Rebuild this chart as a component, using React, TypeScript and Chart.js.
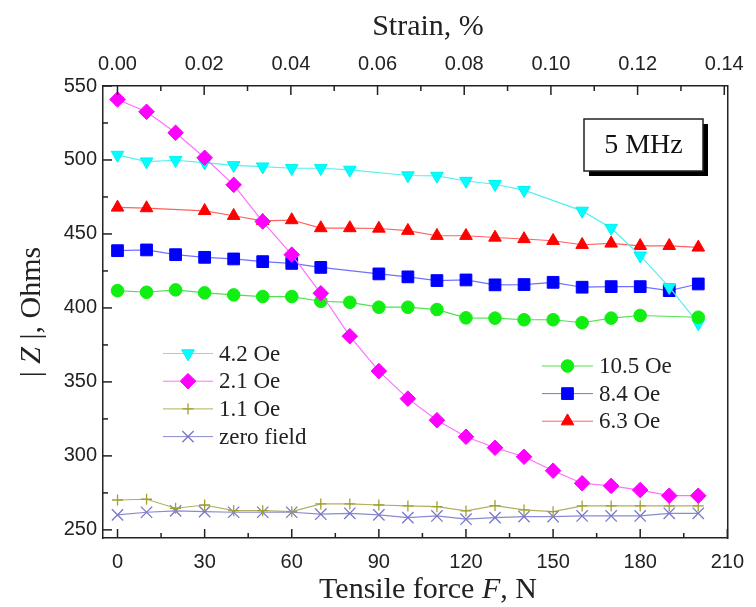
import React, { useEffect, useRef } from 'react';
import { Chart, registerables } from 'chart.js';
import { drawPoint } from 'chart.js/helpers';

Chart.register(...registerables);

// ---- data ----
const force = [0, 10, 20, 30, 40, 50, 60, 70, 80, 90, 100, 110, 120, 130, 140, 150, 160, 170, 180, 190, 200];
const oe42 = [503.4, 498.9, 499.8, 498.2, 496.4, 495.5, 494.4, 494.4, 493.3, null, 489.5, 489.2, 485.8, 483.6, 479.6, null, 465.6, 454, 435.3, 414, 389.5];
const oe21 = [540.9, 532.6, 518.4, 501.5, 483.2, 458.4, 436, 409.9, 380.9, 357.3, 338.7, 324.1, 312.9, 305.5, 299.4, 290, 281.5, 279.7, 276.9, 273.1, 273.1];
const oe11 = [270.2, 270.7, 264.6, 266.8, 263, 263, 262.3, 267.5, 267.5, 266.8, 266.2, 265.7, 262.8, 266.4, 263.5, 262.3, 266.2, 266.2, 266.2, 266.2, 266.2];
const zeroField = [260.1, 261.9, 262.8, 262.3, 261.9, 261.9, 261.9, 260.6, 261.2, 260.1, 258.3, 259.4, 257.2, 258.3, 259, 259, 259.4, 259.4, 259.4, 261.2, 261.2];
const oe105 = [411.7, 410.6, 412.2, 410.2, 408.8, 407.7, 407.7, 404.5, 403.8, 400.5, 400.5, 398.9, 393.3, 393.1, 392, 392, 390, 393.1, 394.9, null, 393.7];
const oe84 = [438.7, 439.2, 436, 434.2, 433.1, 431.3, 430.1, 427.4, null, 423, 421, 418.5, 418.9, 415.6, 415.8, 417.3, 414, 414.4, 414.4, 411.7, 416.2];
const oe63 = [467.9, 467.5, null, 465.6, 462.3, 458.9, 459.4, 454, 454, 453.7, 452.2, 448.8, 448.8, 447.6, 446.6, 445.4, 442.7, 443.6, 442, 442, 440.9];

const forceTicks = [0, 30, 60, 90, 120, 150, 180, 210];
const strainTicks = [0, 0.02, 0.04, 0.06, 0.08, 0.1, 0.12, 0.14];
const zTicks = [250, 300, 350, 400, 450, 500, 550];

const labelsLeft = ['4.2 Oe', '2.1 Oe', '1.1 Oe', 'zero field'];
const labelsRight = ['10.5 Oe', '8.4 Oe', '6.3 Oe'];
const frequencyLabel = '5 MHz';

const TICK_FONT = "'Liberation Sans Narrow', 'Liberation Sans', Arial, sans-serif";
const SERIF = "'Liberation Serif', 'Times New Roman', serif";
const AXIS = '#222';

const toPts = (arr: (number | null)[]) => force.map((f, i) => ({ x: f, y: arr[i] }));

function mid(ticks: number[]) {
  const out: number[] = [];
  for (let i = 0; i < ticks.length - 1; i++) out.push((ticks[i] + ticks[i + 1]) / 2);
  return out;
}

const ticksPlugin = {
  id: 'inwardTicks',
  afterDraw(chart: any) {
    const { ctx, chartArea: a, scales } = chart;
    ctx.save();
    ctx.strokeStyle = AXIS;
    ctx.lineWidth = 1.5;
    const seg = (x1: number, y1: number, x2: number, y2: number) => {
      ctx.beginPath(); ctx.moveTo(x1, y1); ctx.lineTo(x2, y2); ctx.stroke();
    };
    forceTicks.forEach(v => { const p = scales.x.getPixelForValue(v); seg(p, a.bottom, p, a.bottom - 9); });
    mid(forceTicks).forEach(v => { const p = scales.x.getPixelForValue(v); seg(p, a.bottom, p, a.bottom - 5); });
    strainTicks.forEach(v => { const p = scales.x2.getPixelForValue(v); seg(p, a.top, p, a.top + 9); });
    mid(strainTicks).forEach(v => { const p = scales.x2.getPixelForValue(v); seg(p, a.top, p, a.top + 5); });
    zTicks.forEach(v => { const p = scales.y.getPixelForValue(v); seg(a.left, p, a.left + 9, p); });
    mid(zTicks).forEach(v => { const p = scales.y.getPixelForValue(v); seg(a.left, p, a.left + 5, p); });
    ctx.restore();
  },
};

function drawMixed(ctx: CanvasRenderingContext2D, parts: [string, boolean][], cx: number, cy: number, size: number) {
  const fontFor = (it: boolean) => `${it ? 'italic ' : ''}${size}px ${SERIF}`;
  let total = 0;
  parts.forEach(([t, it]) => { ctx.font = fontFor(it); total += ctx.measureText(t).width; });
  let x = cx - total / 2;
  ctx.textAlign = 'left';
  ctx.textBaseline = 'middle';
  parts.forEach(([t, it]) => { ctx.font = fontFor(it); ctx.fillText(t, x, cy); x += ctx.measureText(t).width; });
}

const decorPlugin = {
  id: 'decor',
  afterDraw(chart: any) {
    const ctx: CanvasRenderingContext2D = chart.ctx;
    ctx.save();
    ctx.fillStyle = AXIS;
    // axis titles
    drawMixed(ctx, [['Strain, %', false]], 428, 27, 30);
    drawMixed(ctx, [['Tensile force ', false], ['F', true], [', N', false]], 428, 590, 30);
    ctx.save();
    ctx.translate(32, 312);
    ctx.rotate(-Math.PI / 2);
    drawMixed(ctx, [['| ', false], ['Z', true], [' |, Ohms', false]], 0, 0, 30);
    ctx.restore();

    // legends
    const drawLegend = (idxs: number[], labels: string[], x1: number, x2: number, tx: number, y0: number, dy: number) => {
      idxs.forEach((di, k) => {
        const ds = chart.data.datasets[di];
        const y = y0 + k * dy;
        ctx.strokeStyle = ds.borderColor;
        ctx.lineWidth = 1;
        ctx.beginPath(); ctx.moveTo(x1, y); ctx.lineTo(x2, y); ctx.stroke();
        ctx.fillStyle = ds.pointBackgroundColor;
        ctx.strokeStyle = ds.pointBorderColor;
        ctx.lineWidth = ds.pointBorderWidth;
        drawPoint(ctx, { pointStyle: ds.pointStyle, rotation: ds.pointRotation || 0, radius: ds.pointRadius, borderWidth: ds.pointBorderWidth } as any, (x1 + x2) / 2, y);
        ctx.fillStyle = AXIS;
        ctx.font = `23px ${SERIF}`;
        ctx.textAlign = 'left';
        ctx.textBaseline = 'middle';
        ctx.fillText(labels[k], tx, y + 1);
      });
    };
    drawLegend([0, 1, 2, 3], labelsLeft, 163, 213, 219, 353.5, 27.7);
    drawLegend([4, 5, 6], labelsRight, 542, 593, 599, 366, 27.6);

    // frequency box with shadow
    const bx = 584, by = 119, bw = 119, bh = 52;
    ctx.fillStyle = '#000';
    ctx.fillRect(bx + 5, by + 5, bw, bh);
    ctx.fillStyle = '#fff';
    ctx.fillRect(bx, by, bw, bh);
    ctx.strokeStyle = '#222';
    ctx.lineWidth = 1.5;
    ctx.strokeRect(bx, by, bw, bh);
    ctx.fillStyle = '#111';
    drawMixed(ctx, [[frequencyLabel, false]], bx + bw / 2, by + bh / 2 + 1, 28);
    ctx.restore();
  },
};

function series(label: string, data: (number | null)[], line: string, fill: string, stroke: string, style: string, radius: number, order: number, rotation = 0, bw = 1) {
  return {
    label,
    data: toPts(data),
    borderColor: line,
    borderWidth: 1.2,
    pointBackgroundColor: fill,
    pointBorderColor: stroke,
    pointBorderWidth: bw,
    pointStyle: style,
    pointRadius: radius,
    pointRotation: rotation,
    pointHoverRadius: radius,
    tension: 0,
    spanGaps: true,
    order,
    xAxisID: 'x',
    yAxisID: 'y',
  };
}

export default function App() {
  const ref = useRef<HTMLCanvasElement>(null);
  useEffect(() => {
    const datasets = [
      series('4.2 Oe', oe42, '#55f0f0', '#00ffff', '#00f0f0', 'triangle', 7.3, 2, 180),
      series('2.1 Oe', oe21, '#ff70ff', '#ff00ff', '#ff00ff', 'rectRot', 7.8, 0),
      series('1.1 Oe', oe11, '#b0b060', '#a0a030', '#a0a030', 'cross', 5.5, 5, 0, 1.3),
      series('zero field', zeroField, '#8a8ad0', '#7777cc', '#7777cc', 'crossRot', 8, 6, 0, 1.3),
      series('10.5 Oe', oe105, '#50e050', '#11ee11', '#11ee11', 'circle', 6.3, 1),
      series('8.4 Oe', oe84, '#7070ff', '#0000ff', '#0000ff', 'rect', 8.3, 3),
      series('6.3 Oe', oe63, '#ff6060', '#ff0000', '#ff0000', 'triangle', 7.3, 4),
    ];
    const tickFont = { family: TICK_FONT, size: 20 };
    const chart = new Chart(ref.current as HTMLCanvasElement, {
      type: 'line',
      data: { datasets } as any,
      options: {
        animation: false,
        responsive: false,
        devicePixelRatio: 1,
        layout: { padding: 0 },
        plugins: { legend: { display: false }, tooltip: { enabled: false }, title: { display: false } },
        events: [],
        scales: {
          x: {
            type: 'linear', position: 'bottom', min: -5, max: 210,
            afterBuildTicks: (s: any) => { s.ticks = forceTicks.map(v => ({ value: v })); },
            afterFit: (s: any) => { s.height = 69; },
            grid: { display: false, drawTicks: false },
            border: { display: true, color: AXIS, width: 1.5 },
            ticks: { font: tickFont, color: AXIS, padding: 12, maxRotation: 0, autoSkip: false },
          },
          x2: {
            type: 'linear', position: 'top', min: -0.00334, max: 0.1407,
            afterBuildTicks: (s: any) => { s.ticks = strainTicks.map(v => ({ value: v })); },
            afterFit: (s: any) => { s.height = 86; },
            grid: { display: false, drawTicks: false },
            border: { display: true, color: AXIS, width: 1.5 },
            ticks: { font: tickFont, color: AXIS, padding: 10, maxRotation: 0, autoSkip: false, callback: (v: any) => Number(v).toFixed(2) },
          },
          y: {
            type: 'linear', position: 'left', min: 244.5, max: 550,
            afterBuildTicks: (s: any) => { s.ticks = zTicks.map(v => ({ value: v })); },
            afterFit: (s: any) => { s.width = 103; },
            grid: { display: false, drawTicks: false },
            border: { display: true, color: AXIS, width: 1.5 },
            ticks: { font: tickFont, color: AXIS, padding: 6, autoSkip: false },
          },
          y2: {
            type: 'linear', position: 'right', min: 244.5, max: 550,
            afterFit: (s: any) => { s.width = 24; },
            grid: { display: false, drawTicks: false },
            border: { display: true, color: AXIS, width: 1.5 },
            ticks: { display: false },
          },
        },
      } as any,
      plugins: [ticksPlugin, decorPlugin],
    });
    return () => chart.destroy();
  }, []);
  return (
    <div style={{ position: 'fixed', left: 0, top: 0, width: 756, height: 607, background: '#fff' }}>
      <canvas ref={ref} width={756} height={607} style={{ display: 'block', width: 756, height: 607 }} />
    </div>
  );
}
